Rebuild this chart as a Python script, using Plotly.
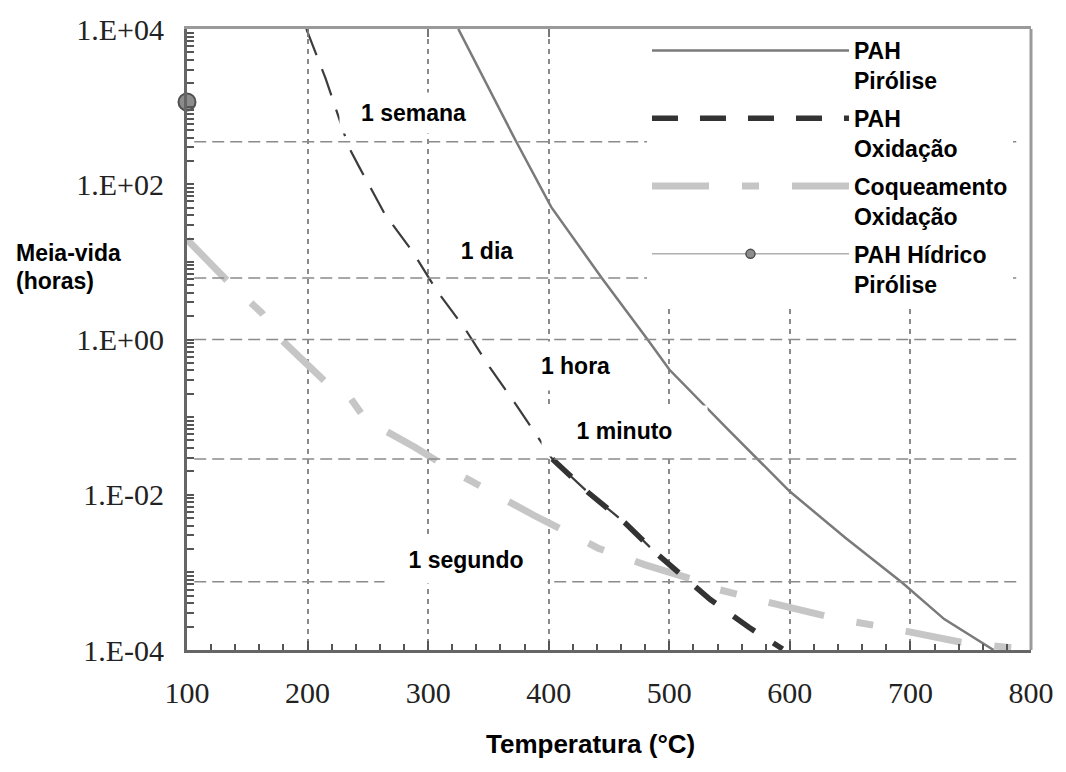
import plotly.graph_objects as go

# ---------------- data ----------------
# PAH pirólise (solid)
temp_pah_pir = [325, 373, 402, 444, 482, 500, 548, 572, 600, 646, 693, 728, 769]
hl_pah_pir = [1.0e4, 355, 51, 6.2, 1.0, 0.41, 0.071, 0.030, 0.011, 2.8e-3, 7.4e-4, 2.5e-4, 1.0e-4]

# PAH oxidação (dark dashed)
temp_pah_oxi = [199, 215, 234, 243, 264, 287, 307, 330, 351, 373, 395, 403, 433, 463, 489, 534, 566, 594]
hl_pah_oxi = [1.0e4, 2300, 305, 165, 41.5, 13.6, 4.3, 1.42, 0.44, 0.144, 0.0447, 0.0288,
              0.0106, 4.4e-3, 1.77e-3, 4.47e-4, 1.96e-4, 1.03e-4]

# Coqueamento oxidação (light grey dash-dot)
temp_coque = [100, 133, 162, 179, 215, 236, 248, 289, 325, 388, 441, 480, 521, 541, 580, 641, 680, 742, 800]
hl_coque = [19.4, 5.8, 2.2, 0.97, 0.283, 0.172, 0.093, 0.0409, 0.0185, 5.4e-3, 2.05e-3, 1.25e-3,
            8.0e-4, 6.0e-4, 4.2e-4, 2.48e-4, 1.96e-4, 1.26e-4, 1.0e-4]

# PAH hídrico pirólise (single point)
temp_hidrico = [100]
hl_hidrico = [1150]

# reference time marks (horizontal dashed lines, as drawn)
time_marks_h = [353, 6.2, 1.0, 0.0288, 7.6e-4]
time_mark_span = [106, 791]

x_top_ticks = [200, 300, 400, 500, 600, 700]
y_major = {1e4: "1.E+04", 1e2: "1.E+02", 1: "1.E+00", 1e-2: "1.E-02", 1e-4: "1.E-04"}

series_names = ["PAH<br>Pirólise", "PAH<br>Oxidação", "Coqueamento<br>Oxidação", "PAH Hídrico<br>Pirólise"]

time_labels = ["1 semana", "1 dia", "1 hora", "1 minuto", "1 segundo"]

# y ticks: every 1..9 x 10^k, labels only on even decades
y_tickvals, y_ticktext = [], []
for k in range(-4, 4):
    for m in range(1, 10):
        v = float(f"{m}e{k}")
        y_tickvals.append(v)
        y_ticktext.append(y_major.get(v, ""))
y_tickvals.append(1e4)
y_ticktext.append(y_major[1e4])

# ---------------- figure ----------------
fig = go.Figure()

# horizontal time-mark lines
gx, gy = [], []
for v in time_marks_h:
    gx += [time_mark_span[0], time_mark_span[1], None]
    gy += [v, v, None]
fig.add_trace(go.Scatter(x=gx, y=gy, mode="lines", xaxis="x2", yaxis="y",
                         line=dict(color="#8a8a8a", width=1.5, dash="12px,6px"),
                         showlegend=False, hoverinfo="skip"))

# Coqueamento
fig.add_trace(go.Scatter(x=temp_coque, y=hl_coque, mode="lines", name=series_names[2],
                         legendgroup="c", legendrank=3,
                         line=dict(color="#c6c6c6", width=7, dash="57px,33px,17px,33px")))

# PAH oxidação: thin upper part + thick lower part
i_thin_end = temp_pah_oxi.index(489) + 1
fig.add_trace(go.Scatter(x=temp_pah_oxi[:i_thin_end], y=hl_pah_oxi[:i_thin_end], mode="lines",
                         name=series_names[1], legendgroup="b", showlegend=False,
                         line=dict(color="#3c3c3c", width=2.2, dash="28px,15px")))
i0 = temp_pah_oxi.index(403)
fig.add_trace(go.Scatter(x=temp_pah_oxi[i0:], y=hl_pah_oxi[i0:], mode="lines", name=series_names[1],
                         legendgroup="b", legendrank=2,
                         line=dict(color="#333333", width=5.5, dash="26px,22px")))

# PAH pirólise
fig.add_trace(go.Scatter(x=temp_pah_pir, y=hl_pah_pir, mode="lines", name=series_names[0],
                         legendgroup="a", legendrank=1,
                         line=dict(color="#7a7a7a", width=2.5)))

# PAH hídrico
fig.add_trace(go.Scatter(x=temp_hidrico, y=hl_hidrico, mode="markers", name=series_names[3],
                         legendgroup="d", showlegend=False, cliponaxis=False,
                         marker=dict(size=17, color="#8c8c8c", line=dict(color="#505050", width=2))))
fig.add_trace(go.Scatter(x=[None], y=[None], mode="lines+markers", name=series_names[3],
                         legendgroup="d", legendrank=4,
                         line=dict(color="#b0b0b0", width=1.5),
                         marker=dict(size=9, color="#8c8c8c", line=dict(color="#505050", width=1.5))))

tick_font = dict(family="Liberation Serif", size=30, color="#222222")
lab_font = dict(family="Liberation Sans", size=23, color="black", weight="bold")

fig.update_layout(
    width=1066, height=772,
    margin=dict(l=187, r=25, t=22, b=122),
    paper_bgcolor="white", plot_bgcolor="white",
    showlegend=True,
    legend=dict(x=0.545, xanchor="left", y=1.0, yanchor="top", bgcolor="white",
                borderwidth=0, font=lab_font, itemwidth=197, valign="top",
                tracegroupgap=5, traceorder="grouped"),
    xaxis=dict(range=[100, 800], tickmode="linear", tick0=100, dtick=100,
               ticks="inside", ticklen=9, tickwidth=2,
               tickcolor="#555", showline=True, linecolor="#666", linewidth=3,
               showgrid=True, gridcolor="#8a8a8a", griddash="5px,5px", gridwidth=1.5,
               zeroline=False, tickfont=tick_font, ticklabelstandoff=14,
               minor=dict(dtick=20, tick0=100, ticks="inside", ticklen=6, tickwidth=1.5,
                          tickcolor="#555", showgrid=False)),
    xaxis2=dict(range=[100, 800], overlaying="x", side="top", tickvals=x_top_ticks,
                ticks="inside", ticklen=8, tickwidth=2, tickcolor="#777",
                showticklabels=False, showline=True, linecolor="#9a9a9a", linewidth=3,
                showgrid=False, zeroline=False),
    yaxis=dict(type="log", range=[-4, 4], tickvals=y_tickvals, ticktext=y_ticktext,
               ticks="inside", ticklen=7, tickwidth=1.8, tickcolor="#555",
               showline=True, linecolor="#666", linewidth=3, showgrid=False, zeroline=False,
               tickfont=tick_font, ticklabelstandoff=14),
    shapes=[dict(type="line", xref="paper", yref="paper", x0=1, x1=1, y0=0, y1=1,
                 line=dict(color="#9a9a9a", width=3))],
)

# time labels with white boxes (x in °C, y in log10 hours)
label_pos = [(287.7, 2.917, 147, 40), (349.2, 1.146, 102, 49), (422.1, -0.344, 125, 48),
             (463.1, -1.185, 165, 50), (331.1, -2.84, 162, 46)]
for txt, (lx, ly, w, h) in zip(time_labels, label_pos):
    fig.add_annotation(x=lx, y=ly, xref="x", yref="y", text=txt, showarrow=False,
                       font=lab_font, bgcolor="white", width=w, height=h, borderpad=0)

# axis titles
fig.add_annotation(x=0.4778, y=-0.1513, xref="paper", yref="paper", text="Temperatura (°C)",
                   showarrow=False, font=dict(family="Liberation Sans", size=26, color="black", weight="bold"),
                   xanchor="center", yanchor="middle")
fig.add_annotation(x=-0.2049, y=0.6385, xref="paper", yref="paper", text="Meia-vida",
                   showarrow=False, font=lab_font, xanchor="left", yanchor="middle")
fig.add_annotation(x=-0.2049, y=0.594, xref="paper", yref="paper", text="(horas)",
                   showarrow=False, font=lab_font, xanchor="left", yanchor="middle")

fig.write_html("out.html", config={"displayModeBar": False},
               post_script="document.body.style.margin='0';")
